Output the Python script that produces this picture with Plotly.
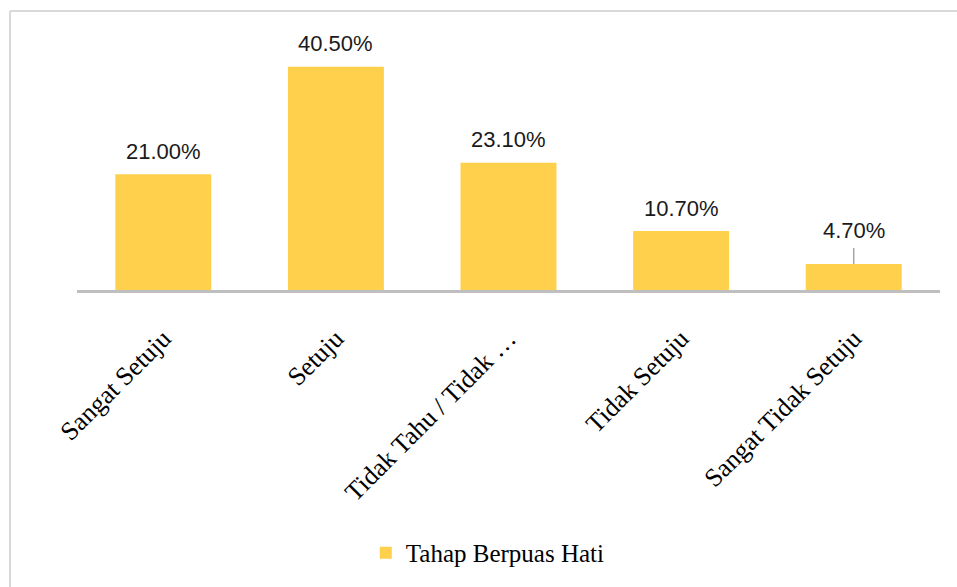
import plotly.graph_objects as go

categories = ["Sangat Setuju", "Setuju", "Tidak Tahu / Tidak …", "Tidak Setuju", "Sangat Tidak Setuju"]
values = [21.0, 40.5, 23.1, 10.7, 4.7]
labels = ["21.00%", "40.50%", "23.10%", "10.70%", "4.70%"]
series_name = "Tahap Berpuas Hati"

BAR = "#FFD04C"
W, H = 957, 587
L, R, T, B = 77, 17, 42, 297

fig = go.Figure()
fig.add_trace(go.Bar(
    x=list(range(len(categories))), y=values, name=series_name,
    marker=dict(color=BAR, line=dict(width=0)), width=0.556,
    showlegend=True,
))

for i, (v, lab) in enumerate(zip(values, labels)):
    if v < 8:
        fig.add_annotation(x=i, y=v, text=lab, showarrow=True, arrowhead=0,
                           ax=0, ay=-34, arrowcolor="#A6A6A6", arrowwidth=1.5,
                           startstandoff=4,
                           font=dict(family="Liberation Sans, Arial", size=22, color="#1a1a1a"))
    else:
        fig.add_annotation(x=i, y=v, text=lab, showarrow=False, yanchor="middle",
                           yshift=23,
                           font=dict(family="Liberation Sans, Arial", size=22, color="#1a1a1a"))

pw = W - L - R
ph = H - T - B
# frame lines (top and left), in paper coordinates
x_left = (10 - L) / pw
y_top = (ph - (11 - T)) / ph
y_bot = -(H - T - ph) / ph - 0.05
x_right = (W - L) / pw + 0.05
fig.add_shape(type="line", xref="paper", yref="paper", x0=x_left, x1=x_right, y0=y_top, y1=y_top,
              line=dict(color="#D9D9D9", width=2))
fig.add_shape(type="line", xref="paper", yref="paper", x0=x_left, x1=x_left, y0=y_top, y1=y_bot,
              line=dict(color="#D9D9D9", width=2))

fig.update_layout(
    width=W, height=H,
    margin=dict(l=L, r=R, t=T, b=B),
    plot_bgcolor="white", paper_bgcolor="white",
    xaxis=dict(
        range=[-0.5, len(categories) - 0.5],
        tickmode="array", tickvals=list(range(len(categories))), ticktext=categories,
        tickangle=-45, showgrid=False, zeroline=False,
        showline=True, linecolor="#BFBFBF", linewidth=3,
        ticks="", ticklabelstandoff=20,
        tickfont=dict(family="Liberation Serif, Times New Roman", size=26, color="#000000"),
    ),
    yaxis=dict(range=[0, 45], visible=False, showgrid=False, zeroline=False),
    legend=dict(orientation="h", x=0.476, xanchor="center", y=-1.06, yanchor="middle",
                font=dict(family="Liberation Serif, Times New Roman", size=25, color="#000000")),
    showlegend=True,
)

fig.write_html("out.html")
